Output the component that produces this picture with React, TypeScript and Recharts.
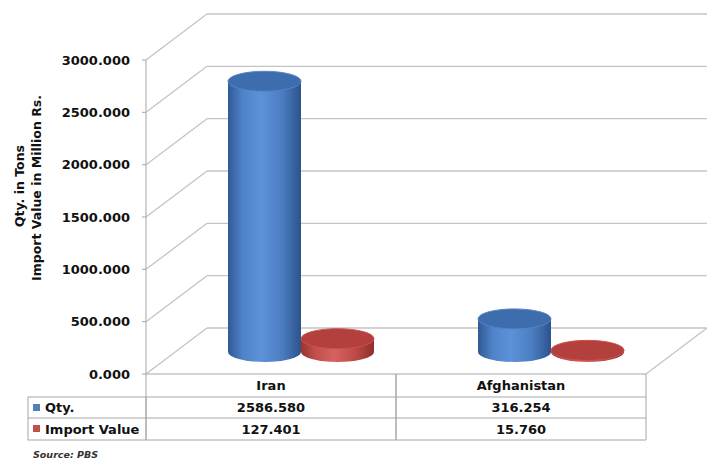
import { BarChart, Bar, XAxis, YAxis, CartesianGrid } from 'recharts';

// categories and series values
const countries = ['Iran', 'Afghanistan'];
const qtyValues = [2586.58, 316.254];
const importValues = [127.401, 15.76];
const yTicks = [0, 500, 1000, 1500, 2000, 2500, 3000];
const seriesNames = ['Qty.', 'Import Value'];

const data = countries.map((name, i) => ({ name, qty: qtyValues[i], importValue: importValues[i] }));

const FONT = '"DejaVu Sans", Verdana, sans-serif';
const GRID = '#c4c4c4';
const BORDER = '#a6a6a6';
// 3D depth shift of the back wall and half of it for the bars
const DX = 61;
const DY = -46;
const BAR_DX = 30;
const BAR_DY = -22;
const RY = 10;

const palettes = {
  blue: { stops: ['#2f5a96', '#4f82c8', '#5d92da', '#4a7cc0', '#2c538c'], top: '#3e6dae', topEdge: '#5483c6' },
  red: { stops: ['#9a3532', '#c24f4b', '#d6625e', '#bd4a46', '#8e2f2c'], top: '#b3403d', topEdge: '#c9514d' },
};

function makeCylinder(kind: 'blue' | 'red') {
  return (props: any) => {
    const { x, y, width, height, index } = props;
    if (width == null || y == null) return <g />;
    const p = palettes[kind];
    const id = `cyl-${kind}-${index}`;
    const left = x + BAR_DX;
    const right = left + width;
    const cx = left + width / 2;
    const rx = width / 2;
    const topY = y + BAR_DY;
    const baseY = y + height + BAR_DY;
    return (
      <g>
        <defs>
          <linearGradient id={id} x1="0" y1="0" x2="1" y2="0">
            <stop offset="0%" stopColor={p.stops[0]} />
            <stop offset="20%" stopColor={p.stops[1]} />
            <stop offset="45%" stopColor={p.stops[2]} />
            <stop offset="75%" stopColor={p.stops[3]} />
            <stop offset="100%" stopColor={p.stops[4]} />
          </linearGradient>
        </defs>
        <path
          d={`M${left},${topY} L${left},${baseY} A${rx},${RY} 0 0 0 ${right},${baseY} L${right},${topY} Z`}
          fill={`url(#${id})`}
        />
        <ellipse cx={cx} cy={topY} rx={rx} ry={RY} fill={p.top} stroke={p.topEdge} strokeWidth={1} />
      </g>
    );
  };
}

const BlueCylinder = makeCylinder('blue');
const RedCylinder = makeCylinder('red');

function GridLine(p: any) {
  const bottom = p.y != null && p.height != null ? Math.abs(p.y1 - (p.y + p.height)) < 1 : p.index === 0;
  return (
    <g key={p.key}>
      <line x1={p.x1} y1={p.y1} x2={p.x1 + DX} y2={p.y1 + DY} stroke={GRID} strokeWidth={1.3} />
      <line x1={p.x1 + DX} y1={p.y1 + DY} x2={p.x2 + DX} y2={p.y1 + DY} stroke={GRID} strokeWidth={1.3} />
      {bottom && <line x1={p.x2} y1={p.y1} x2={p.x2 + DX} y2={p.y1 + DY} stroke={GRID} strokeWidth={1.3} />}
    </g>
  );
}

// data table under the chart, one column per category
function TableColumn(props: any) {
  const { x, y, index, payload } = props;
  const colW = 250;
  const left = x - colW / 2;
  const r1 = y + 23;
  const r2 = y + 44;
  const r3 = y + 66;
  const i = countries.indexOf(payload.value);
  const txt = { fontFamily: FONT, fontSize: 13, fontWeight: 700, fill: '#111', textAnchor: 'middle' as const };
  return (
    <g>
      <line x1={left} y1={y} x2={left} y2={r3} stroke={BORDER} />
      <line x1={left + colW} y1={y} x2={left + colW} y2={r3} stroke={BORDER} />
      <line x1={left} y1={r1} x2={left + colW} y2={r1} stroke={BORDER} />
      <line x1={left} y1={r2} x2={left + colW} y2={r2} stroke={BORDER} />
      <line x1={left} y1={r3} x2={left + colW} y2={r3} stroke={BORDER} />
      <text x={x} y={y + 16} {...txt}>{payload.value}</text>
      <text x={x} y={r1 + 15} {...txt}>{qtyValues[i].toFixed(3)}</text>
      <text x={x} y={r2 + 16} {...txt}>{importValues[i].toFixed(3)}</text>
      {index === 0 && (
        <g>
          <rect x={28} y={r1} width={left - 28} height={r3 - r1} fill="none" stroke={BORDER} />
          <line x1={28} y1={r2} x2={left} y2={r2} stroke={BORDER} />
          <rect x={33} y={r1 + 7} width={7} height={7} fill="#4f81bd" />
          <rect x={33} y={r2 + 7} width={7} height={7} fill="#c0504d" />
          <text x={45} y={r1 + 15} {...txt} textAnchor="start">{seriesNames[0]}</text>
          <text x={45} y={r2 + 16} {...txt} textAnchor="start">{seriesNames[1]}</text>
        </g>
      )}
    </g>
  );
}

function AxisTitle() {
  const t = { fontFamily: FONT, fontSize: 12.5, fontWeight: 700, fill: '#111', textAnchor: 'middle' as const };
  return (
    <g>
      <text x={24} y={186} transform="rotate(-90 24 186)" {...t}>Qty. in Tons</text>
      <text x={41} y={188} transform="rotate(-90 41 188)" {...t}>Import Value in Million Rs.</text>
    </g>
  );
}

export default function App() {
  return (
    <div style={{ position: 'absolute', left: 0, top: 0, width: 725, height: 470, background: '#fff' }}>
      <BarChart
        width={725}
        height={470}
        data={data}
        margin={{ top: 60, right: 79, bottom: 30, left: 0 }}
        barSize={73}
        barGap={0}
      >
        <CartesianGrid vertical={false} horizontal={GridLine} />
        <XAxis
          dataKey="name"
          height={66}
          axisLine={{ stroke: BORDER }}
          tickLine={false}
          tickSize={0}
          tickMargin={0}
          interval={0}
          tick={TableColumn}
        />
        <YAxis
          width={146}
          domain={[0, 3000]}
          ticks={yTicks}
          interval={0}
          axisLine={{ stroke: BORDER }}
          tickLine={{ stroke: BORDER }}
          tickSize={4}
          tickMargin={12}
          tickFormatter={(v: number) => v.toFixed(3)}
          tick={{ fontFamily: FONT, fontSize: 13, fontWeight: 700, fill: '#111' }}
          label={{ content: AxisTitle }}
        />
        <Bar dataKey="qty" name={seriesNames[0]} fill="#4f81bd" shape={BlueCylinder} isAnimationActive={false} />
        <Bar dataKey="importValue" name={seriesNames[1]} fill="#c0504d" shape={RedCylinder} isAnimationActive={false} />
      </BarChart>
      <div
        style={{
          position: 'absolute',
          left: 33,
          top: 449,
          fontFamily: FONT,
          fontSize: 9.5,
          fontWeight: 700,
          fontStyle: 'italic',
          color: '#333',
        }}
      >
        Source: PBS
      </div>
    </div>
  );
}
